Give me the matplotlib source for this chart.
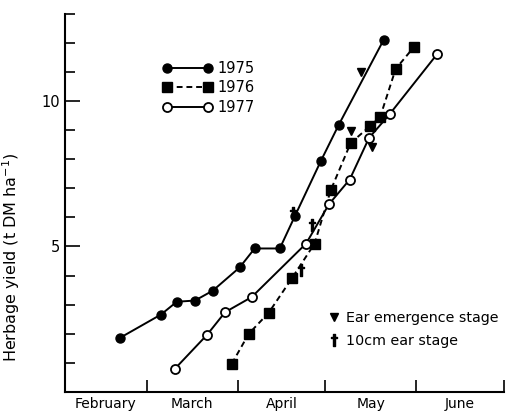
import numpy as np
import matplotlib
matplotlib.use("Agg")
from matplotlib import pyplot as plt

# days after 1 February, herbage yield (t DM/ha)
days_1975 = [18.8, 32.8, 38.2, 44.4, 50.5, 59.7, 64.8, 73.4, 78.5, 87.4, 93.5, 108.9]
yield_1975 = [1.86, 2.66, 3.10, 3.14, 3.48, 4.28, 4.93, 4.93, 6.03, 7.93, 9.17, 12.1]

days_1976 = [57.0, 62.8, 69.6, 77.5, 85.3, 90.8, 97.6, 104.3, 107.7, 113.0, 119.3]
yield_1976 = [0.97, 2.0, 2.72, 3.9, 5.1, 6.93, 8.55, 9.14, 9.45, 11.1, 11.86]

days_1977 = [37.5, 48.6, 54.7, 63.8, 82.4, 90.2, 97.3, 103.9, 110.9, 127.1]
yield_1977 = [0.79, 1.97, 2.74, 3.26, 5.1, 6.45, 7.3, 8.73, 9.54, 11.6]

# growth stage marks
ear_days = [101.0, 97.8, 105.0]
ear_yield = [10.98, 8.95, 8.4]
tencm_days = [78.0, 80.5, 84.5]
tencm_yield = [6.15, 4.2, 5.75]

month_starts = [0, 28, 59, 89, 120, 150]
month_names = ['February', 'March', 'April', 'May', 'June']

plt.rcParams['font.family'] = 'DejaVu Sans'

fig = plt.figure(figsize=(5.08, 4.13), dpi=100)
ax = fig.add_axes([0.128, 0.051, 0.864, 0.916])

l75, = ax.plot(days_1975, yield_1975, '-', color='black', lw=1.4, marker='o', ms=6.5,
               mfc='black', mec='black', label='1975')
l76, = ax.plot(days_1976, yield_1976, '--', color='black', lw=1.4, dashes=(3, 2), marker='s',
               ms=6.5, mfc='black', mec='black', label='1976')
l77, = ax.plot(days_1977, yield_1977, '-', color='black', lw=1.4, marker='o', ms=6.5,
               mfc='white', mec='black', mew=1.3, label='1977')

e, = ax.plot(ear_days, ear_yield, 'v', color='black', ms=6, ls='none', label='Ear emergence stage')
t, = ax.plot(tencm_days, tencm_yield, marker=r'$\dagger$', color='black', ms=8, ls='none',
             label='10cm ear stage')

leg1 = ax.legend(handles=[l75, l76, l77], loc='upper left', bbox_to_anchor=(0.223, 0.875),
                 frameon=False, numpoints=2, handlelength=3.4, handletextpad=0.35,
                 borderpad=0, borderaxespad=0, labelspacing=0.3, fontsize=10.5)
ax.add_artist(leg1)
ax.legend(handles=[e, t], loc='upper left', bbox_to_anchor=(0.6, 0.214), frameon=False,
          handlelength=0.8, handletextpad=0.45, borderpad=0, borderaxespad=0,
          labelspacing=0.6, fontsize=10.3)

ax.set_xlim(0, 150)
ax.set_ylim(0, 13)
ax.spines['top'].set_visible(False)
ax.spines['right'].set_visible(False)
ax.spines['left'].set_linewidth(1.5)
ax.spines['bottom'].set_linewidth(1.5)

ax.set_xticks(month_starts)
ax.set_xticklabels([])
centers = [(month_starts[i] + month_starts[i + 1]) / 2 for i in range(5)]
ax.set_xticks(centers, minor=True)
ax.set_xticklabels(month_names, minor=True, fontsize=10)
ax.tick_params(axis='x', which='major', direction='in', length=9, width=1.2)
ax.tick_params(axis='x', which='minor', length=0, pad=4)

ax.set_yticks([5, 10])
ax.set_yticklabels(['5', '10'], fontsize=10.5)
ax.set_yticks(np.arange(1, 14), minor=True)
ax.tick_params(axis='y', which='major', direction='in', length=11, width=1.2)
ax.tick_params(axis='y', which='minor', direction='in', length=7, width=1.2)

ax.set_ylabel(r'Herbage yield (t DM ha$^{-1}$)', fontsize=11.5)
ax.yaxis.set_label_coords(-0.098, 0.357)

fig.savefig('out.png', dpi=100)
